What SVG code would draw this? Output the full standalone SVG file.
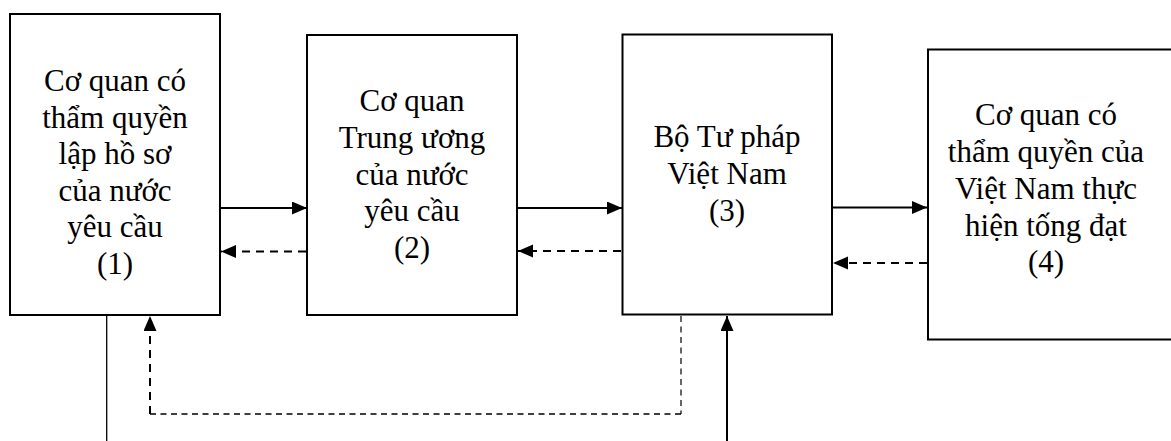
<svg xmlns="http://www.w3.org/2000/svg" width="1171" height="441" viewBox="0 0 1171 441">
<defs>
<marker id="ah" markerUnits="userSpaceOnUse" markerWidth="16" markerHeight="14" refX="15" refY="6.5" orient="auto">
<path d="M0,0 L15,6.5 L0,13 Z" fill="#000"/>
</marker>
<style>
.box{fill:#fff;stroke:#000;stroke-width:2}
.t{font-family:"Liberation Serif",serif;font-size:31px;fill:#000;text-anchor:middle}
.s{fill:none;stroke:#000;stroke-width:2}
.d{fill:none;stroke:#000;stroke-width:2;stroke-dasharray:8,6}
.d2{fill:none;stroke:#000;stroke-width:1.5;stroke-dasharray:6,4.5}
.d3{fill:none;stroke:#000;stroke-width:1.2;stroke-dasharray:6,4.5}
.thin{fill:none;stroke:#000;stroke-width:1.3}
</style>
</defs>
<rect width="1171" height="441" fill="#fff"/>
<g id="node1">
<rect class="box" x="10" y="14" width="210" height="301"/>
<text class="t" x="115" y="91">Cơ quan có</text>
<text class="t" x="115" y="127.5">thẩm quyền</text>
<text class="t" x="115" y="164">lập hồ sơ</text>
<text class="t" x="115" y="200.5">của nước</text>
<text class="t" x="115" y="237">yêu cầu</text>
<text class="t" x="115" y="273.5">(1)</text>
</g>
<g id="node2">
<rect class="box" x="307" y="35" width="210" height="280"/>
<text class="t" x="412" y="111">Cơ quan</text>
<text class="t" x="412" y="148">Trung ương</text>
<text class="t" x="412" y="184.5">của nước</text>
<text class="t" x="412" y="221">yêu cầu</text>
<text class="t" x="412" y="258">(2)</text>
</g>
<g id="node3">
<rect class="box" x="622.5" y="34.5" width="209.5" height="280"/>
<text class="t" x="727" y="147">Bộ Tư pháp</text>
<text class="t" x="727" y="184">Việt Nam</text>
<text class="t" x="727" y="220.5">(3)</text>
</g>
<g id="node4">
<rect class="box" x="928" y="49.5" width="250" height="290"/>
<text class="t" x="1046" y="125">Cơ quan có</text>
<text class="t" x="1046" y="162">thẩm quyền của</text>
<text class="t" x="1046" y="199">Việt Nam thực</text>
<text class="t" x="1046" y="235.5">hiện tống đạt</text>
<text class="t" x="1046" y="272">(4)</text>
</g>
<g id="connectors">
<line class="s" x1="221" y1="208" x2="307" y2="208" marker-end="url(#ah)"/>
<line class="d" x1="306" y1="251.5" x2="221" y2="251.5" marker-end="url(#ah)"/>
<line class="s" x1="518" y1="208" x2="622" y2="208" marker-end="url(#ah)"/>
<line class="d" x1="621" y1="251" x2="518" y2="251" marker-end="url(#ah)"/>
<line class="s" x1="833" y1="207.5" x2="927" y2="207.5" marker-end="url(#ah)"/>
<line class="d" x1="927" y1="263" x2="833" y2="263" marker-end="url(#ah)"/>
<line class="thin" x1="106.7" y1="316" x2="106.7" y2="441"/>
<polyline class="d3" points="681,316 681,414"/>
<polyline class="d2" points="681,414 150,414"/>
<line class="d" x1="150" y1="414" x2="150" y2="316" marker-end="url(#ah)"/>
<line class="s" x1="727" y1="441" x2="727" y2="316" marker-end="url(#ah)"/>
</g>
</svg>
